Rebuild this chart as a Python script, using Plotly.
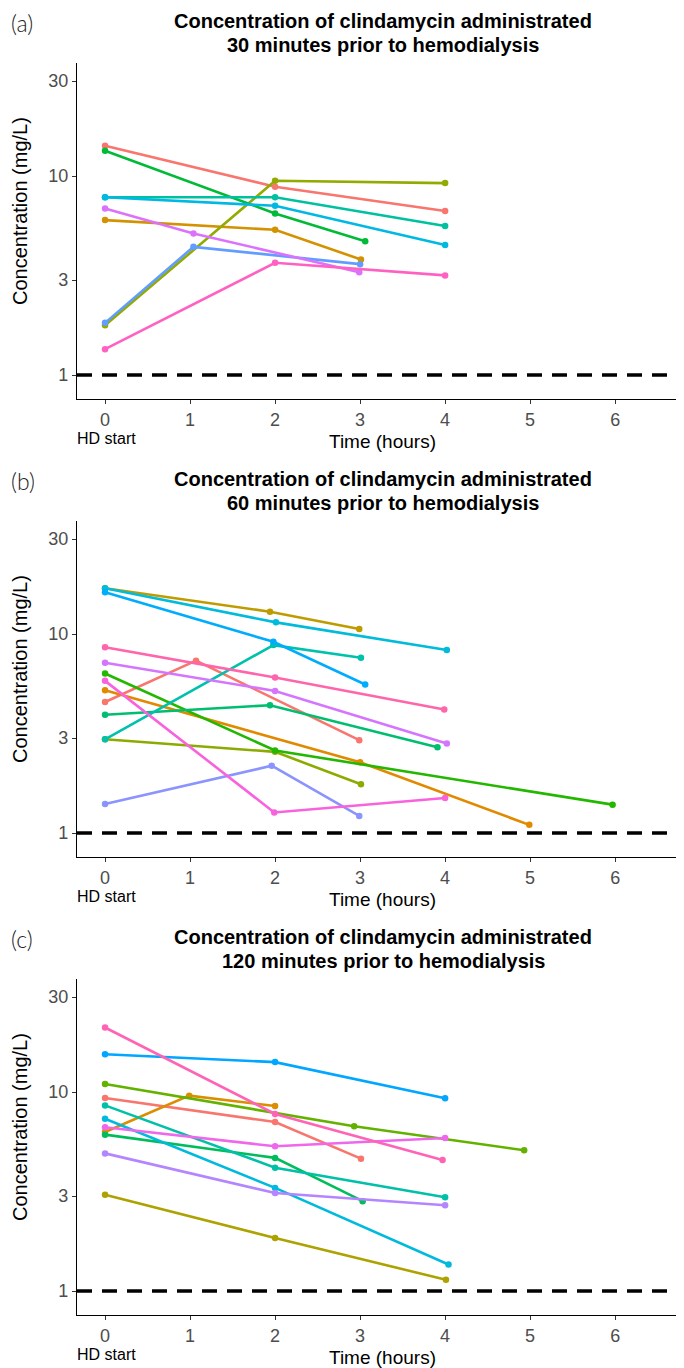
import plotly.graph_objects as go

# ---------------- data ----------------
tick_vals_y = [1, 3, 10, 30]
tick_text_y = ["1", "3", "10", "30"]
tick_vals_x = [0, 1, 2, 3, 4, 5, 6]
panel_letters = ["(a)", "(b)", "(c)"]
title_line1 = "Concentration of clindamycin administrated"
title_line2 = ["30 minutes prior to hemodialysis",
               "60 minutes prior to hemodialysis",
               "120 minutes prior to hemodialysis"]
threshold = 1

# Panel (a): 30 min prior
a_colors = ["#F8766D", "#D39200", "#93AA00", "#00BA38", "#00C19F",
            "#00B9E3", "#619CFF", "#DB72FB", "#FF61C3"]
a_time = [[0, 2, 4], [0, 2, 3.01], [0, 2, 4], [0, 2, 3.06], [0, 2, 4],
          [0, 2, 4], [0, 1.04, 3.0], [0, 1.04, 2.99], [0, 2, 4]]
a_conc = [[14.2, 8.84, 6.67], [6.01, 5.37, 3.81], [1.78, 9.47, 9.22],
          [13.4, 6.49, 4.71], [7.82, 7.82, 5.61], [7.82, 7.09, 4.5],
          [1.83, 4.41, 3.61], [6.88, 5.15, 3.29], [1.35, 3.67, 3.17]]

# Panel (b): 60 min prior
b_colors = ["#F8766D", "#E18A00", "#BE9C00", "#8CAB00", "#24B700", "#00BE70",
            "#00C1AB", "#00BBDA", "#00ACFC", "#8B93FF", "#D575FE", "#F962DD",
            "#FF65AC"]
b_time = [[0, 1.07, 2.99], [0, 3.0, 4.99], [0, 1.94, 2.99], [0, 2, 3.01],
          [0, 2, 5.97], [0, 1.94, 3.91], [0, 1.98, 3.01], [0, 2.01, 4.02],
          [0, 1.98, 3.06], [0, 1.96, 2.99], [0, 2, 4.02], [0, 1.99, 4.0],
          [0, 2, 3.99]]
b_conc = [[4.56, 7.35, 2.93], [5.22, 2.27, 1.10], [17.0, 12.95, 10.6],
          [2.96, 2.56, 1.76], [6.34, 2.6, 1.39], [3.93, 4.39, 2.70],
          [2.96, 8.8, 7.6], [17.0, 11.45, 8.31], [16.2, 9.15, 5.58],
          [1.40, 2.18, 1.22], [7.17, 5.18, 2.82], [5.82, 1.27, 1.50],
          [8.58, 6.05, 4.18]]

# Panel (c): 120 min prior
c_colors = ["#F8766D", "#DB8E00", "#AEA200", "#64B200", "#00BD5C", "#00C1A7",
            "#00BADE", "#00A6FF", "#B385FF", "#EF67EB", "#FF63B6"]
c_time = [[0, 2, 3.01], [0, 0.99, 2], [0, 2, 4.01], [0, 2.93, 4.93],
          [0, 2, 3.03], [0, 2, 4], [0, 2, 4.04], [0, 2, 4], [0, 2, 4],
          [0, 2, 4], [0, 2, 3.97]]
c_conc = [[9.33, 7.07, 4.63], [6.3, 9.59, 8.51], [3.05, 1.85, 1.14],
          [10.97, 6.73, 5.1], [6.11, 4.67, 2.83], [8.57, 4.17, 2.96],
          [7.35, 3.30, 1.36], [15.5, 14.14, 9.3], [4.92, 3.11, 2.70],
          [6.65, 5.34, 5.88], [21.1, 7.76, 4.56]]

# ---------------- layout helpers ----------------
# The page body has an 8px margin, so the figure is 676x1360 and all
# positions below are given in window pixels, shifted by that margin.
OFF = 8
W, H = 684 - OFF, 1368 - OFF
X_RANGE = [-0.33, 6.81]
Y_RANGE = [-0.12, 1.568]          # log10 units
PLOT_LEFT = 77
PANEL_TOP = [63, 521, 979]
PANEL_H = 336
STEP = 458


def py(p):
    return 1 - (p - OFF) / H


def px(p):
    return (p - OFF) / W


panels = [(a_time, a_conc, a_colors), (b_time, b_conc, b_colors),
          (c_time, c_conc, c_colors)]

TXT = "Liberation Sans, Arial, sans-serif"
fig = go.Figure()
layout = dict(
    width=W, height=H, autosize=False, margin=dict(l=0, r=0, t=0, b=0, pad=0),
    paper_bgcolor="white", plot_bgcolor="white", showlegend=False,
    font=dict(family=TXT, color="#000000"),
)
annotations = []


def note(text, x, y, size, family=TXT, color="#000000", anchor="center",
         angle=0, weight=None):
    f = dict(family=family, size=size, color=color)
    if weight is not None:
        f["weight"] = weight
    return dict(text=text, x=px(x), y=py(y), xref="paper", yref="paper",
                xanchor=anchor, yanchor="middle", showarrow=False,
                textangle=angle, borderpad=0, font=f)


for i, (times, concs, cols) in enumerate(panels):
    k = "" if i == 0 else str(i + 1)
    xa, ya = "x" + k, "y" + k
    top = PANEL_TOP[i]
    bot = top + PANEL_H
    layout["xaxis" + k] = dict(
        domain=[px(PLOT_LEFT), 1.0], anchor=ya, range=X_RANGE,
        tickvals=tick_vals_x, showgrid=False, zeroline=False,
        showline=True, linecolor="#000000", linewidth=1.4,
        ticks="outside", ticklen=4, tickwidth=1.1, tickcolor="#333333",
        tickfont=dict(family=TXT, size=18, color="#4D4D4D"),
    )
    layout["yaxis" + k] = dict(
        domain=[py(bot), py(top)], anchor=xa, type="log", range=Y_RANGE,
        tickvals=tick_vals_y, ticktext=tick_text_y, showgrid=False,
        zeroline=False, showline=True, linecolor="#000000", linewidth=1.4,
        ticks="outside", ticklen=4, tickwidth=1.1, tickcolor="#333333",
        tickfont=dict(family=TXT, size=18, color="#4D4D4D"),
    )
    # threshold dashed line
    fig.add_trace(go.Scatter(
        x=X_RANGE, y=[threshold, threshold], xaxis=xa, yaxis=ya,
        mode="lines", line=dict(color="#000000", width=3.5, dash="15px,10px"),
        hoverinfo="skip"))
    for t, c, col in zip(times, concs, cols):
        fig.add_trace(go.Scatter(
            x=t, y=c, xaxis=xa, yaxis=ya, mode="lines+markers",
            line=dict(color=col, width=2.6),
            marker=dict(color=col, size=6.5)))

    off = STEP * i
    annotations += [
        note(panel_letters[i], 10, 23 + off, 23,
             family="Lato, Noto Sans, sans-serif", color="#222222",
             anchor="left", weight=300),
        note("<b>" + title_line1 + "</b>", 383, 21 + off, 20),
        note("<b>" + title_line2[i] + "</b>", 383, 45 + off, 20),
        note("Concentration (mg/L)", 20, 211 + off, 20, angle=-90),
        note("HD start", 106, 438 + off, 16),
        note("Time (hours)", 382, 441 + off, 19),
    ]

layout["annotations"] = annotations
fig.update_layout(**layout)
fig.write_html("out.html")
